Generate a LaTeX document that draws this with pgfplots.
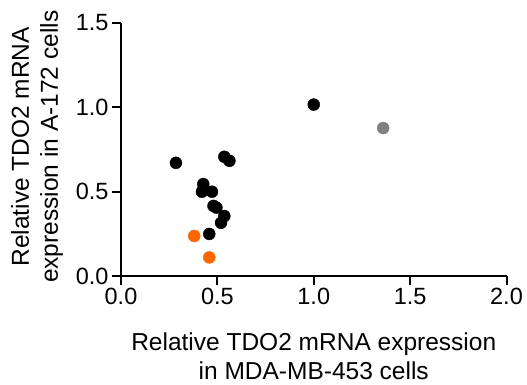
\documentclass[border=0pt]{standalone}
\usepackage{pgfplots}
\pgfplotsset{compat=1.18}
\usepackage{fontspec}
\setmainfont{Liberation Sans}
\definecolor{myorange}{RGB}{255,102,0}
\definecolor{mygray}{RGB}{128,128,128}
\begin{document}
\begin{tikzpicture}
\begin{axis}[
  at={(0,0)}, anchor=south west,
  scale only axis,
  width=385.5pt, height=253.3pt,
  xmin=0, xmax=2, ymin=0, ymax=1.5,
  axis lines*=left,
  axis line style={line width=2pt},
  xtick={0,0.5,1,1.5,2},
  ytick={0,0.5,1,1.5},
  tick style={line width=2pt, black},
  tick align=outside,
  major tick length=9pt,
  xticklabel style={/pgf/number format/fixed,/pgf/number format/precision=1,/pgf/number format/fixed zerofill},
  yticklabel style={/pgf/number format/fixed,/pgf/number format/precision=1,/pgf/number format/fixed zerofill},
  /pgf/number format/assume math mode=true,
  ticklabel style={font=\fontsize{23.5}{27}\selectfont},
  label style={font=\fontsize{24.5}{29}\selectfont, align=center},
  xlabel={Relative TDO2 mRNA expression\\in MDA-MB-453 cells},
  xlabel style={at={(axis description cs:0.5,-0.316)}, anchor=center},
  ylabel={Relative TDO2 mRNA\\expression in A-172 cells},
  ylabel style={at={(axis description cs:-0.218,0.51)}, anchor=center},
  clip=false,
]
\addplot[only marks, mark=*, mark size=6pt, black] coordinates {
(1.0,1.015) (0.285,0.67) (0.536,0.706) (0.5625,0.682) (0.427,0.544)
(0.42,0.499) (0.472,0.499) (0.48,0.415) (0.495,0.405) (0.536,0.355)
(0.519,0.315) (0.458,0.249)
};
\addplot[only marks, mark=*, mark size=6pt, mygray] coordinates {(1.36,0.876)};
\addplot[only marks, mark=*, mark size=6pt, myorange] coordinates {(0.38,0.237) (0.458,0.11)};
\end{axis}
\pgfresetboundingbox
\useasboundingbox (-121pt,-109pt) rectangle (406pt,276pt);
\end{tikzpicture}
\end{document}
